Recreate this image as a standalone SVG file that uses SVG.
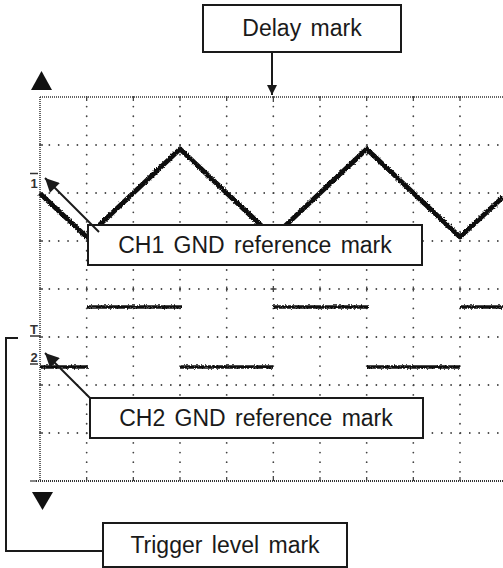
<svg xmlns="http://www.w3.org/2000/svg" width="503" height="568" viewBox="0 0 503 568">
<style>
.bg{fill:#fff}
.box{fill:#fff;stroke:#1a1a1a;stroke-width:2}
.lbl{font-family:"Liberation Sans",Arial,sans-serif;font-size:23px;word-spacing:3px;fill:#1a1a1a;text-anchor:middle}
.mk{font-family:"Liberation Sans",Arial,sans-serif;font-size:13px;font-weight:bold;fill:#333;text-anchor:middle}
.gh{stroke:#444;stroke-width:1.8;stroke-linecap:round;stroke-dasharray:0.01 9.333;fill:none}
.gv{stroke:#444;stroke-width:1.8;stroke-linecap:round;stroke-dasharray:0.01 9.6;fill:none}
.border{stroke:#333;stroke-width:1.5;stroke-dasharray:1 1;fill:none}
.tick{stroke:#444;stroke-width:1.3;fill:none}
.wave{stroke:#111;stroke-width:5;fill:none;stroke-linejoin:round}
.sq{stroke:#111;stroke-width:3.5;fill:none}
.conn{stroke:#1a1a1a;stroke-width:2;fill:none}
</style>
<defs>
<marker id="ahS" viewBox="0 0 10 10" refX="10" refY="5" markerUnits="userSpaceOnUse" markerWidth="10" markerHeight="10" orient="auto"><path d="M0,0 L10,5 L0,10 z" fill="#1a1a1a"/></marker>
<marker id="ahL" viewBox="0 0 10 10" refX="10" refY="5" markerUnits="userSpaceOnUse" markerWidth="16" markerHeight="14" orient="auto"><path d="M0,0 L10,5 L0,10 z" fill="#1a1a1a"/></marker>
<filter id="rough" filterUnits="userSpaceOnUse" x="0" y="0" width="503" height="568"><feTurbulence type="fractalNoise" baseFrequency="0.7" numOctaves="1" seed="4" result="n"/><feDisplacementMap in="SourceGraphic" in2="n" scale="3.5" xChannelSelector="R" yChannelSelector="G"/></filter>
</defs>
<rect class="bg" x="0" y="0" width="503" height="568"/>

<g id="screen">
  <g id="grid">
    <line class="gh" x1="40" y1="145" x2="503" y2="145"/>
    <line class="gh" x1="40" y1="193" x2="503" y2="193"/>
    <line class="gh" x1="40" y1="241" x2="503" y2="241"/>
    <line class="gh" x1="40" y1="289" x2="503" y2="289"/>
    <line class="gh" x1="40" y1="337" x2="503" y2="337"/>
    <line class="gh" x1="40" y1="385" x2="503" y2="385"/>
    <line class="gh" x1="40" y1="433" x2="503" y2="433"/>
    <line class="gv" x1="86.67" y1="97" x2="86.67" y2="481"/>
    <line class="gv" x1="133.33" y1="97" x2="133.33" y2="481"/>
    <line class="gv" x1="180" y1="97" x2="180" y2="481"/>
    <line class="gv" x1="226.67" y1="97" x2="226.67" y2="481"/>
    <line class="gv" x1="273.33" y1="97" x2="273.33" y2="481"/>
    <line class="gv" x1="320" y1="97" x2="320" y2="481"/>
    <line class="gv" x1="366.67" y1="97" x2="366.67" y2="481"/>
    <line class="gv" x1="413.33" y1="97" x2="413.33" y2="481"/>
    <line class="gv" x1="460" y1="97" x2="460" y2="481"/>
    <line class="border" x1="40" y1="97" x2="503" y2="97"/>
    <line class="border" x1="40" y1="97" x2="40" y2="481"/>
    <line class="border" x1="36" y1="481" x2="503" y2="481" style="stroke-width:2"/>
    <line class="tick" x1="30" y1="481" x2="36" y2="481"/>
    <path class="tick" d="M86.67,97v4M133.33,97v4M180,97v4M226.67,97v4M273.33,97v5M320,97v4M366.67,97v4M413.33,97v4M460,97v4"/>
    <path class="tick" d="M86.67,481v-4M133.33,481v-4M180,481v-4M226.67,481v-4M273.33,481v-5M320,481v-4M366.67,481v-4M413.33,481v-4M460,481v-4"/>
    <path class="tick" d="M86.67,286.5v5M133.33,286.5v5M180,286.5v5M226.67,286.5v5M273.33,286v6M320,286.5v5M366.67,286.5v5M413.33,286.5v5M460,286.5v5M270.5,289h6"/>
    <path class="tick" d="M40,145h3M40,193h3M40,241h3M40,289h3M40,337h3M40,385h3M40,433h3"/>
  </g>
  <g id="waves" filter="url(#rough)">
    <polyline class="wave" points="40,193.5 86.67,237 180,149 273.33,237 366.67,149 460,237 503,197"/>
    <path class="sq" d="M87,307H182M273,307H368M460,307H503"/>
    <path class="sq" d="M40,367H88M180,367H273M367,367H460"/>
  </g>
  <g id="markers">
    <polygon points="31,90 52,90 41.5,71" fill="#111"/>
    <polygon points="32,492 53,492 42.5,510" fill="#111"/>
    <line class="tick" x1="30" y1="173.5" x2="38" y2="173.5" style="stroke:#333;stroke-width:1.5"/>
    <text class="mk" x="34" y="187.5">1</text>
    <text class="mk" x="34" y="334">T</text>
    <line class="tick" x1="30" y1="336" x2="40" y2="336" style="stroke:#333;stroke-width:1.5"/>
    <text class="mk" x="34" y="362">2</text>
    <line class="tick" x1="30" y1="364" x2="38" y2="364" style="stroke:#333;stroke-width:1.5"/>
  </g>
</g>

<g id="delay-mark">
  <rect class="box" x="203" y="5" width="198" height="47"/>
  <text class="lbl" x="302" y="36">Delay mark</text>
</g>
<g id="ch1-gnd">
  <rect class="box" x="88" y="225" width="334" height="40"/>
  <text class="lbl" x="255" y="253">CH1 GND reference mark</text>
</g>
<g id="ch2-gnd">
  <rect class="box" x="90" y="398" width="333" height="40"/>
  <text class="lbl" x="256" y="426">CH2 GND reference mark</text>
</g>
<g id="trigger-level">
  <rect class="box" x="103" y="523" width="244" height="44"/>
  <text class="lbl" x="225" y="553">Trigger level mark</text>
</g>

<g id="connectors">
  <line class="conn" x1="272" y1="52" x2="272" y2="95" marker-end="url(#ahS)"/>
  <line class="conn" x1="99" y1="232" x2="45" y2="178" marker-end="url(#ahL)"/>
  <line class="conn" x1="90" y1="398" x2="45" y2="353" marker-end="url(#ahL)"/>
  <polyline class="conn" points="18,338 6,338 6,551 103,551"/>
</g>
</svg>
